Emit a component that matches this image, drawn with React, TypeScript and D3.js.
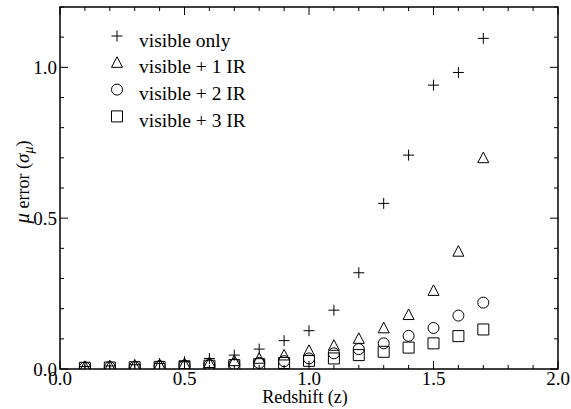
import React from "react";
import * as d3 from "d3";

const redshift = [0.1, 0.2, 0.3, 0.4, 0.5, 0.6, 0.7, 0.8, 0.9, 1.0, 1.1, 1.2, 1.3, 1.4, 1.5, 1.6, 1.7];
const visibleOnly = [0.008, 0.01, 0.014, 0.018, 0.024, 0.035, 0.046, 0.066, 0.094, 0.127, 0.195, 0.319, 0.549, 0.709, 0.941, 0.983, 1.096];
const visiblePlus1IR = [0.007, 0.009, 0.011, 0.013, 0.016, 0.02, 0.026, 0.034, 0.045, 0.06, 0.077, 0.1, 0.135, 0.179, 0.259, 0.389, 0.699];
const visiblePlus2IR = [0.005, 0.006, 0.007, 0.009, 0.011, 0.013, 0.016, 0.02, 0.026, 0.035, 0.052, 0.066, 0.085, 0.11, 0.136, 0.177, 0.22];
const visiblePlus3IR = [0.004, 0.005, 0.006, 0.007, 0.009, 0.011, 0.013, 0.016, 0.02, 0.027, 0.035, 0.046, 0.057, 0.071, 0.085, 0.109, 0.131];
const seriesNames = ["visible only", "visible + 1 IR", "visible + 2 IR", "visible + 3 IR"];
const seriesShapes = ["plus", "triangle", "circle", "square"];
const xTickLabels = ["0.0", "0.5", "1.0", "1.5", "2.0"];
const yTickLabels = ["0.0", "0.5", "1.0"];

const W = 571, H = 409;
const M = { left: 60, right: 13, top: 7, bottom: 40 };
const FONT = "'Liberation Serif', 'Times New Roman', serif";

function markerPath(shape: string, cx: number, cy: number): string {
  const r = 5.5;
  if (shape === "plus") return `M${cx - r},${cy}H${cx + r}M${cx},${cy - r}V${cy + r}`;
  if (shape === "triangle") {
    const h = r * 1.1;
    return `M${cx},${cy - h}L${cx + r},${cy + h * 0.75}L${cx - r},${cy + h * 0.75}Z`;
  }
  if (shape === "square") return `M${cx - r},${cy - r}H${cx + r}V${cy + r}H${cx - r}Z`;
  return `M${cx + r},${cy}A${r},${r} 0 1,1 ${cx - r},${cy}A${r},${r} 0 1,1 ${cx + r},${cy}Z`;
}

export default function App() {
  const x = d3.scaleLinear().domain([0, 2]).range([M.left, W - M.right]);
  const y = d3.scaleLinear().domain([0, 1.2]).range([H - M.bottom, M.top]);
  const series = [visibleOnly, visiblePlus1IR, visiblePlus2IR, visiblePlus3IR];
  const x0 = x(0), x1 = x(2), y0 = y(0), y1 = y(1.2);
  const xMinor = d3.range(0, 21).map((i) => i / 10);
  const yMinor = d3.range(0, 13).map((i) => i / 10);
  const isMajor = (v: number) => Math.abs(v * 2 - Math.round(v * 2)) < 1e-6;
  const major = 8, minor = 4;

  return (
    <svg width={W} height={H} style={{ position: "absolute", left: 0, top: 0, background: "#fff" }}>
      <defs>
        <clipPath id="plotclip">
          <rect x={x0} y={y1} width={x1 - x0} height={y0 - y1} />
        </clipPath>
      </defs>
      <g clipPath="url(#plotclip)">
        {series.map((vals, si) => (
          <g key={si}>
            {vals.map((v, i) => (
              <path key={i} d={markerPath(seriesShapes[si], x(redshift[i]), y(v))} fill="none" stroke="#000" strokeWidth={1} />
            ))}
          </g>
        ))}
      </g>
      <rect x={x0} y={y1} width={x1 - x0} height={y0 - y1} fill="none" stroke="#000" strokeWidth={1.5} />
      {xMinor.map((v, i) => {
        const len = isMajor(v) ? major : minor;
        const px = x(v);
        return (
          <g key={"xt" + i}>
            <line x1={px} x2={px} y1={y0} y2={y0 - len} stroke="#000" strokeWidth={1} />
            <line x1={px} x2={px} y1={y1} y2={y1 + len} stroke="#000" strokeWidth={1} />
          </g>
        );
      })}
      {yMinor.map((v, i) => {
        const len = isMajor(v) ? major : minor;
        const py = y(v);
        return (
          <g key={"yt" + i}>
            <line x1={x0} x2={x0 + len} y1={py} y2={py} stroke="#000" strokeWidth={1} />
            <line x1={x1} x2={x1 - len} y1={py} y2={py} stroke="#000" strokeWidth={1} />
          </g>
        );
      })}
      {xTickLabels.map((t, i) => (
        <text key={"xl" + i} x={x(+t)} y={385} textAnchor="middle" fontFamily={FONT} fontSize={19}>{t}</text>
      ))}
      {yTickLabels.map((t, i) => (
        <text key={"yl" + i} x={x0 - 3} y={y(+t) + 6.5} textAnchor="end" fontFamily={FONT} fontSize={19}>{t}</text>
      ))}
      <text x={305} y={403} textAnchor="middle" fontFamily={FONT} fontSize={18}>Redshift (z)</text>
      <text transform={`translate(29,182) rotate(-90)`} textAnchor="middle" fontFamily={FONT} fontSize={18}>
        <tspan fontStyle="italic" fontSize={21}>μ</tspan>
        <tspan> error (</tspan>
        <tspan fontStyle="italic" fontSize={19}>σ</tspan>
        <tspan fontStyle="italic" fontSize={14} dy={4}>μ</tspan>
        <tspan dy={-4}>)</tspan>
      </text>
      {seriesNames.map((name, i) => {
        const ly = 36 + i * 26.8;
        return (
          <g key={"lg" + i}>
            <path d={markerPath(seriesShapes[i], 117, ly)} fill="none" stroke="#000" strokeWidth={1} />
            <text x={139} y={ly + 10.5} fontFamily={FONT} fontSize={19.5}>{name}</text>
          </g>
        );
      })}
    </svg>
  );
}
